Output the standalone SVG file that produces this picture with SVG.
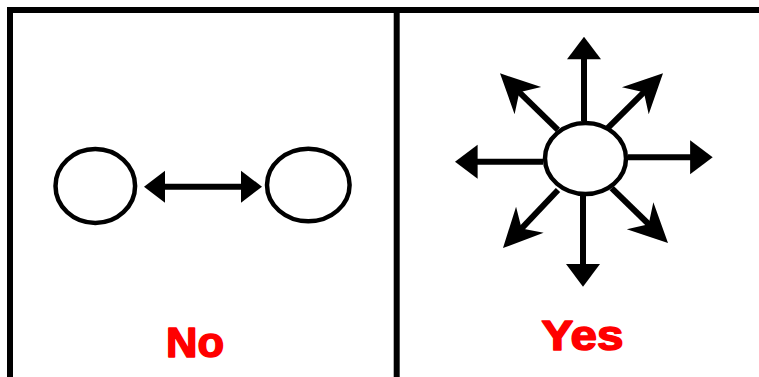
<svg xmlns="http://www.w3.org/2000/svg" width="759" height="377" viewBox="0 0 759 377">
<style>
.frame{stroke:#000;stroke-width:6;fill:none}
.node{fill:#fff;stroke:#000;stroke-width:4.5}
.shaft{stroke:#000;stroke-width:6;fill:none}
.head{fill:#000}
.lbl{font-family:"Liberation Sans",Arial,sans-serif;font-weight:bold;fill:#ff0000;stroke:#ff0000;stroke-width:1.6;stroke-linejoin:round;font-size:43px;text-anchor:middle}
</style>
<defs>
<polygon id="tri" points="0,0 -22.6,-17 -22.6,17"/>
<polygon id="barb" points="0,0 -39,-19 -27,0 -39,19"/>
</defs>
<rect width="759" height="377" fill="#fff"/>
<g id="frame">
<path class="frame" d="M10 377 V10 H759"/>
<path class="frame" d="M396.7 10 V377"/>
</g>
<g id="connectors">
<g id="double-arrow">
<line class="shaft" x1="160" y1="186.7" x2="246" y2="186.7"/>
<polygon class="head" points="144,186.7 165,170.7 165,202.7"/>
<polygon class="head" points="262,186.7 241,170.7 241,202.7"/>
</g>
<g transform="translate(584,36.7) rotate(-90)"><line class="shaft" x1="-84.3" y1="0" x2="-18" y2="0"/><use href="#tri" class="head"/></g>
<g transform="translate(583,286.7) rotate(90)"><line class="shaft" x1="-90.7" y1="0" x2="-18" y2="0"/><use href="#tri" class="head"/></g>
<g transform="translate(712.7,157.3)"><line class="shaft" x1="-84.7" y1="0" x2="-18" y2="0"/><use href="#tri" class="head"/></g>
<g transform="translate(455,161.7) rotate(180)"><line class="shaft" x1="-88" y1="0" x2="-18" y2="0"/><use href="#tri" class="head"/></g>
<g transform="translate(500,73.3) rotate(224.4)"><line class="shaft" x1="-81" y1="0" x2="-24" y2="0"/><use href="#barb" class="head"/></g>
<g transform="translate(663,73.3) rotate(-44.8)"><line class="shaft" x1="-77.6" y1="0" x2="-24" y2="0"/><use href="#barb" class="head"/></g>
<g transform="translate(503,248) rotate(133.5)"><line class="shaft" x1="-79.9" y1="0" x2="-24" y2="0"/><use href="#barb" class="head"/></g>
<g transform="translate(668,243) rotate(44.3)"><line class="shaft" x1="-78.7" y1="0" x2="-24" y2="0"/><use href="#barb" class="head"/></g>
</g>
<g id="node-left-a"><ellipse class="node" cx="95.3" cy="186" rx="39.8" ry="37"/></g>
<g id="node-left-b"><ellipse class="node" cx="308.3" cy="185" rx="41.3" ry="36.3"/></g>
<g id="node-hub"><ellipse class="node" cx="585.5" cy="158.5" rx="40.5" ry="35.5"/></g>
<g id="label-no"><text class="lbl" x="195" y="357" textLength="58" lengthAdjust="spacingAndGlyphs">No</text></g>
<g id="label-yes"><text class="lbl" x="582.5" y="350" textLength="82" lengthAdjust="spacingAndGlyphs">Yes</text></g>
</svg>
